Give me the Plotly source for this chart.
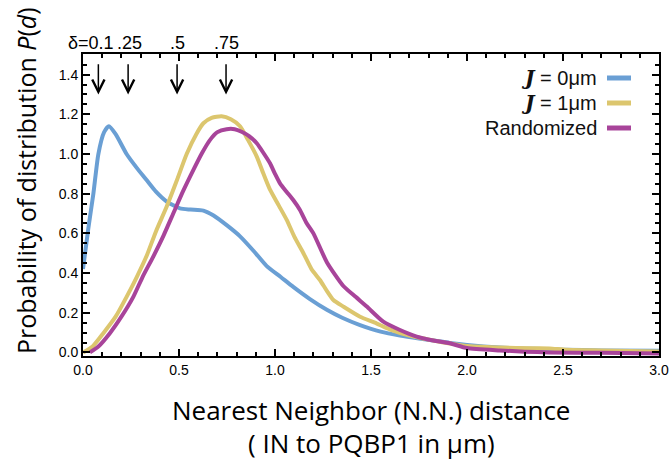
import plotly.graph_objects as go

# ---- data ----
x_j0 = [0, 0.027, 0.054, 0.08, 0.11, 0.135, 0.17, 0.227, 0.28, 0.33, 0.38, 0.436, 0.505, 0.56, 0.627,
        0.68, 0.75, 0.818, 0.89, 0.957, 1.03, 1.095, 1.18, 1.27, 1.35, 1.443, 1.55, 1.651, 1.75, 1.825,
        1.91, 2.0, 2.17, 2.345, 2.5, 2.7, 3.0]
y_j0 = [0.42, 0.62, 0.80, 1.00, 1.11, 1.14, 1.10, 1.00, 0.93, 0.87, 0.81, 0.76, 0.726, 0.72, 0.715,
        0.69, 0.64, 0.585, 0.51, 0.435, 0.38, 0.33, 0.27, 0.215, 0.175, 0.138, 0.105, 0.085, 0.07, 0.06,
        0.048, 0.038, 0.025, 0.018, 0.014, 0.01, 0.008]

x_j1 = [0, 0.05, 0.106, 0.17, 0.227, 0.28, 0.33, 0.38, 0.436, 0.49, 0.54, 0.59, 0.627, 0.67, 0.722,
        0.77, 0.818, 0.86, 0.905, 0.94, 0.974, 1.02, 1.061, 1.10, 1.148, 1.19, 1.234, 1.27, 1.304,
        1.356, 1.443, 1.52, 1.6, 1.7, 1.825, 1.91, 2.0, 2.17, 2.345, 2.43, 2.52, 2.7, 3.0]
y_j1 = [0, 0.03, 0.097, 0.18, 0.28, 0.38, 0.483, 0.61, 0.735, 0.87, 1.0, 1.10, 1.155, 1.182, 1.19,
        1.175, 1.14, 1.07, 0.987, 0.9, 0.82, 0.74, 0.668, 0.585, 0.50, 0.42, 0.365, 0.31, 0.264,
        0.231, 0.18, 0.15, 0.115, 0.085, 0.06, 0.045, 0.032, 0.025, 0.021, 0.02, 0.013, 0.01, 0.005]

x_rand = [0.036, 0.08, 0.14, 0.2, 0.262, 0.31, 0.366, 0.42, 0.47, 0.52, 0.575, 0.62, 0.661, 0.7,
          0.748, 0.79, 0.826, 0.865, 0.905, 0.94, 0.974, 1.0, 1.026, 1.06, 1.095, 1.13, 1.165, 1.2,
          1.27, 1.356, 1.42, 1.478, 1.564, 1.651, 1.738, 1.825, 1.911, 2.0, 2.17, 2.3, 2.43, 2.7, 3.0]
y_rand = [0, 0.03, 0.097, 0.18, 0.28, 0.38, 0.483, 0.59, 0.70, 0.81, 0.92, 1.005, 1.07, 1.11,
          1.125, 1.125, 1.112, 1.09, 1.054, 1.005, 0.953, 0.9, 0.852, 0.81, 0.768, 0.718, 0.651, 0.6,
          0.455, 0.335, 0.28, 0.231, 0.155, 0.113, 0.08, 0.06, 0.046, 0.022, 0.01, 0.004, 0.0, -0.002, -0.005]

series_names = ['<span style="font-family:DejaVu Serif"><b><i>J</i></b></span> = 0μm',
                '<span style="font-family:DejaVu Serif"><b><i>J</i></b></span> = 1μm',
                'Randomized']
colors = ['#6a9fd4', '#dcc66e', '#a8449a']

delta_x = [0.08, 0.235, 0.49, 0.745]
delta_labels = ['δ=0.1', '.25', '.5', '.75']
delta_label_x = [0.04, 0.24, 0.49, 0.745]

x_ticks = [0, 0.5, 1.0, 1.5, 2.0, 2.5, 3.0]
y_ticks = [0, 0.2, 0.4, 0.6, 0.8, 1.0, 1.2, 1.4]

fig = go.Figure()
for xs, ys, c in zip([x_j0, x_j1, x_rand], [y_j0, y_j1, y_rand], colors):
    fig.add_trace(go.Scatter(x=xs, y=ys, mode='lines',
                             line=dict(color=c, width=4, shape='spline', smoothing=0.6),
                             showlegend=False, cliponaxis=True))

tickfont = dict(family='Liberation Sans', size=14, color='black')
fig.update_xaxes(range=[0, 3], tickvals=x_ticks, tickformat='.1f', ticks='inside', ticklen=7,
                 tickwidth=1.5, tickcolor='black', showline=True, linecolor='black', linewidth=2,
                 mirror='allticks', showgrid=False, zeroline=False, tickfont=tickfont,
                 automargin=False,
                 minor=dict(dtick=0.1, ticks='inside', ticklen=4, tickwidth=1.5, tickcolor='black',
                            showgrid=False))
fig.update_yaxes(range=[-0.018, 1.504], tickvals=y_ticks, tickformat='.1f', ticks='inside', ticklen=7,
                 tickwidth=1.5, tickcolor='black', showline=True, linecolor='black', linewidth=2,
                 mirror='allticks', showgrid=False, zeroline=False, tickfont=tickfont,
                 automargin=False,
                 minor=dict(dtick=0.05, ticks='inside', ticklen=4, tickwidth=1.5, tickcolor='black',
                            showgrid=False))

# arrows
for dx in delta_x:
    fig.add_annotation(x=dx, y=1.30, ax=dx, ay=1.46, xref='x', yref='y', axref='x', ayref='y',
                       text='', showarrow=True, arrowhead=5, arrowsize=1.6, arrowwidth=1.5,
                       arrowcolor='black')
for lx, lt in zip(delta_label_x, delta_labels):
    fig.add_annotation(x=lx, y=(356 - 43) / 302, xref='x', yref='paper', text=lt, showarrow=False,
                       font=dict(family='Liberation Sans', size=18, color='black'),
                       xanchor='center', yanchor='middle')

# legend (text right, line sample on the right)
leg_y_px = [78, 103, 128]
for name, c, py in zip(series_names, colors, leg_y_px):
    yp = (356 - py) / 302
    fig.add_annotation(x=(599 - 83) / 576, y=yp, xref='paper', yref='paper', text=name,
                       showarrow=False, xanchor='right', yanchor='middle',
                       font=dict(family='Liberation Sans', size=20, color='#111'))
    fig.add_shape(type='line', xref='paper', yref='paper',
                  x0=(607 - 83) / 576, x1=(631 - 83) / 576, y0=yp, y1=yp,
                  line=dict(color=c, width=5))

# axis titles
title_font = dict(family='Open Sans', size=26, color='black')
fig.add_annotation(x=0.5, y=-(410 - 356) / 302, xref='paper', yref='paper',
                   text='Nearest Neighbor (N.N.) distance', showarrow=False,
                   xanchor='center', yanchor='middle', font=title_font)
fig.add_annotation(x=0.5, y=-(443 - 356) / 302, xref='paper', yref='paper',
                   text='( IN to PQBP1 in μm)', showarrow=False,
                   xanchor='center', yanchor='middle', font=title_font)
fig.add_annotation(x=(26 - 83) / 576, y=(356 - 181) / 302, xref='paper', yref='paper',
                   text='Probability of distribution <i>P</i>(<i>d</i>)', showarrow=False,
                   textangle=-90, xanchor='center', yanchor='middle',
                   font=dict(family='Open Sans', size=25, color='black'))

fig.update_layout(width=671, height=463, margin=dict(l=83, r=12, t=54, b=107),
                  plot_bgcolor='white', paper_bgcolor='white')

fig.write_html('out.html')
